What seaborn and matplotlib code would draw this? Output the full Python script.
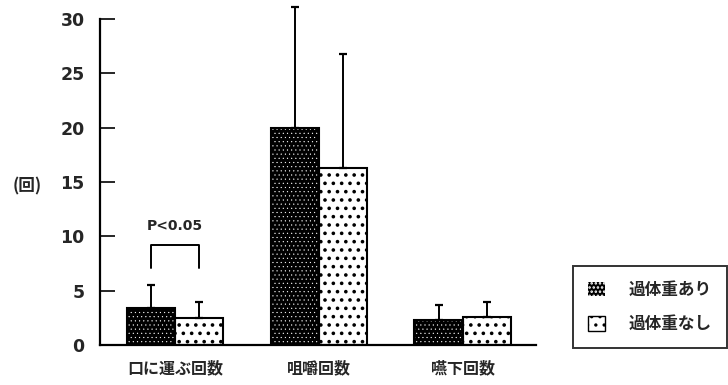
import matplotlib
matplotlib.use("Agg")
import matplotlib.pyplot as plt
import seaborn as sns
import pandas as pd
from matplotlib.patches import Rectangle, Patch

categories = ["口に運ぶ回数", "咀嚼回数", "嚥下回数"]
groups = ["過体重あり", "過体重なし"]
means_with = [3.4, 20.0, 2.3]
means_without = [2.5, 16.3, 2.6]
err_with = [2.1, 11.1, 1.4]
err_without = [1.45, 10.5, 1.35]
yticks = [0, 5, 10, 15, 20, 25, 30]
sig_text = "P<0.05"

sns.set_theme(style="white")
plt.rcParams['font.family'] = ['Noto Sans CJK JP', 'DejaVu Sans']
plt.rcParams['hatch.linewidth'] = 1.2

df = pd.DataFrame({
    "cat": categories * 2,
    "grp": [groups[0]] * 3 + [groups[1]] * 3,
    "val": means_with + means_without,
    "err": err_with + err_without,
})

fig = plt.figure(figsize=(7.28, 3.85), dpi=100)
ax = fig.add_axes([100/728, 1 - 345/385, 436/728, 326/385])

sns.barplot(data=df, x="cat", y="val", hue="grp", order=categories,
            hue_order=groups, palette=["black", "white"], width=0.67,
            errorbar=None, legend=False, ax=ax)

DARK_HATCH = "...."
LIGHT_HATCH = ".."

def style(p, dark):
    if dark:
        p.set_facecolor("black")
        p.set_edgecolor("white")
        p.set_hatch(DARK_HATCH)
        if hasattr(p, "set_hatch_linewidth"):
            p.set_hatch_linewidth(0.3)
    else:
        p.set_facecolor("white")
        p.set_edgecolor("black")
        p.set_hatch(LIGHT_HATCH)
        if hasattr(p, "set_hatch_linewidth"):
            p.set_hatch_linewidth(1.4)
    p.set_linewidth(0)

bars = [p for p in ax.patches if isinstance(p, Rectangle) and p.get_height() > 0]
bars = sorted(bars, key=lambda p: p.get_x())
for i, p in enumerate(bars):
    style(p, i % 2 == 0)
    ax.add_patch(Rectangle(p.get_xy(), p.get_width(), p.get_height(),
                           fill=False, edgecolor="black", linewidth=1.5, zorder=3))

errs = []
for k in range(3):
    errs.append(err_with[k])
    errs.append(err_without[k])
for p, e in zip(bars, errs):
    cx = p.get_x() + p.get_width() / 2
    h = p.get_height()
    ebar = ax.errorbar([cx], [h], yerr=[[0], [e]], fmt="none", ecolor="black",
                       elinewidth=1.4, capsize=3, capthick=1.6, zorder=4)
    for art in ebar.lines[1] + ebar.lines[2]:
        art.set_clip_on(False)

# significance bracket
x1 = bars[0].get_x() + bars[0].get_width() / 2
x2 = bars[1].get_x() + bars[1].get_width() / 2
ax.plot([x1, x1, x2, x2], [7.1, 9.2, 9.2, 7.1], color="black", lw=1.4, zorder=4)
ax.text((x1 + x2) / 2, 10.3, sig_text, ha="center", va="bottom",
        fontsize=10, fontweight="bold", family="DejaVu Sans")

ax.set_xlim(-0.52, 2.51)
ax.set_ylim(0, 30)
ax.set_yticks(yticks)
ax.set_yticklabels([str(t) for t in yticks], fontsize=12.5, fontweight="bold",
                   family="DejaVu Sans")
ax.tick_params(axis="y", direction="in", length=11, width=1.4, left=True, pad=11)
ax.tick_params(axis="x", length=0, pad=11)
for lab in ax.get_xticklabels():
    lab.set_fontweight("bold")
    lab.set_fontsize(11.5)
ax.set_xlabel("")
ax.set_ylabel("")
sns.despine(ax=ax)
for s in ["left", "bottom"]:
    ax.spines[s].set_color("black")
    ax.spines[s].set_linewidth(1.6)

fig.text(27/728, 1 - 186/385, "(回)", ha="center", va="center",
         fontsize=12, fontweight="bold")

h1 = Patch(facecolor="black", edgecolor="white", hatch=DARK_HATCH, linewidth=0)
h2 = Patch(facecolor="white", edgecolor="black", hatch=LIGHT_HATCH, linewidth=1)
leg = fig.legend([h1, h2], groups, loc="center", bbox_to_anchor=(650/728, 1 - 307/385),
                 frameon=True, fancybox=False, edgecolor="black",
                 handlelength=1.0, handleheight=1.0, borderpad=0.9, labelspacing=1.0,
                 handletextpad=1.4, borderaxespad=0,
                 prop={"weight": "bold", "size": 12, "family": ["Noto Sans CJK JP"]})
leg.get_frame().set_linewidth(1.4)

fig.savefig("out.png", dpi=100)
